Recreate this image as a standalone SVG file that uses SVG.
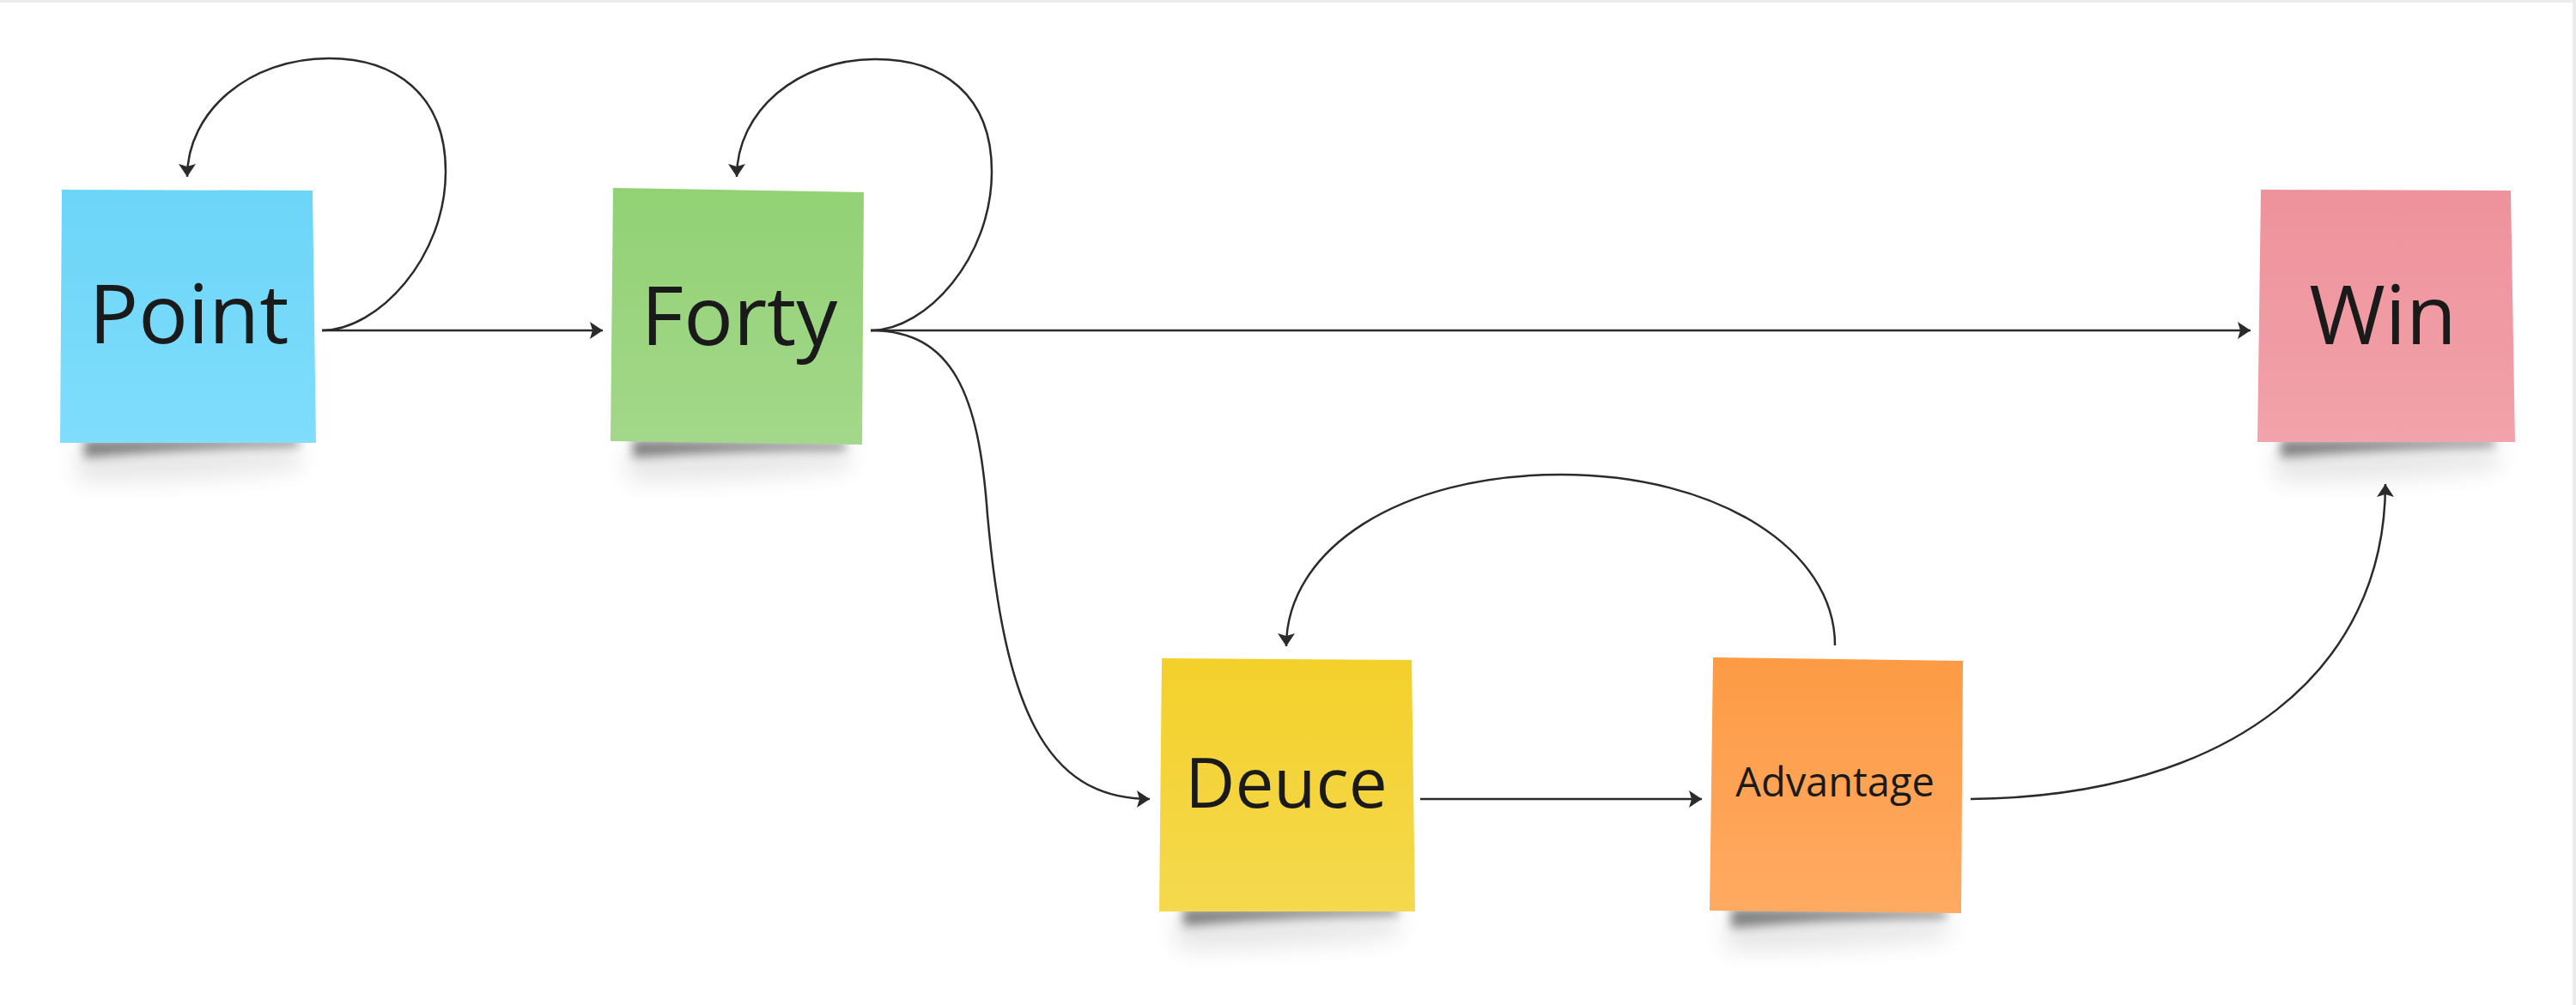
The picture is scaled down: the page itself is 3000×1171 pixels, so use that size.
<svg xmlns="http://www.w3.org/2000/svg" width="3000" height="1171" viewBox="0 0 3000 1171">
<style>
.lbl{font-family:"Open Sans","Noto Sans","Liberation Sans",sans-serif;fill:#1a1a1a;text-anchor:middle}
.big{font-size:96px}
.mid{font-size:80px}
.sm{font-size:47px}
.con{fill:none;stroke:#2b2b2b;stroke-width:2.5}
.sh1{fill:#000;opacity:0.45;filter:url(#blurA)}
.sh2{fill:#000;opacity:0.10;filter:url(#blurB)}
</style>
<defs>
<filter id="blurA" x="-20%" y="-200%" width="140%" height="500%"><feGaussianBlur stdDeviation="6"/></filter>
<filter id="blurB" x="-20%" y="-200%" width="140%" height="500%"><feGaussianBlur stdDeviation="14"/></filter>
<marker id="arr" markerUnits="userSpaceOnUse" viewBox="0 0 15 20" refX="15" refY="10" markerWidth="15" markerHeight="20" orient="auto">
<path d="M0,0 L15,10 L0,20 L3,10 Z" fill="#2b2b2b"/>
</marker>
<linearGradient id="gBlue" x1="0" y1="0" x2="0" y2="1"><stop offset="0" stop-color="#6bd5f8"/><stop offset="1" stop-color="#80ddfc"/></linearGradient>
<linearGradient id="gGreen" x1="0" y1="0" x2="0" y2="1"><stop offset="0" stop-color="#92d174"/><stop offset="1" stop-color="#a3d88a"/></linearGradient>
<linearGradient id="gPink" x1="0" y1="0" x2="0" y2="1"><stop offset="0" stop-color="#ee929b"/><stop offset="1" stop-color="#f2a2aa"/></linearGradient>
<linearGradient id="gYellow" x1="0" y1="0" x2="0" y2="1"><stop offset="0" stop-color="#f3d02a"/><stop offset="1" stop-color="#f5d94e"/></linearGradient>
<linearGradient id="gOrange" x1="0" y1="0" x2="0" y2="1"><stop offset="0" stop-color="#fd9b45"/><stop offset="1" stop-color="#ffaa62"/></linearGradient>
</defs>
<rect x="0" y="0" width="3000" height="1171" fill="#ffffff"/>
<rect x="0" y="0" width="3000" height="3" fill="#ececec"/>
<rect x="2996" y="0" width="4" height="1171" fill="#ececec"/>

<g id="connectors">
<path class="con" marker-end="url(#arr)" d="M375,385 C440,385 519,300 519,200 C519,110 460,68 383,68 C290,68 218,130 218,206"/>
<path class="con" marker-end="url(#arr)" d="M375,385 L702,385"/>
<path class="con" marker-end="url(#arr)" d="M1014,385 C1079,385 1155,300 1155,200 C1155,110 1097,69 1020,69 C928,69 858,130 858,206"/>
<path class="con" marker-end="url(#arr)" d="M1014,385 L2621,385"/>
<path class="con" marker-end="url(#arr)" d="M1014,385 C1110,385 1140,460 1150,600 C1170,820 1215,931 1339,931"/>
<path class="con" marker-end="url(#arr)" d="M1654,931 L1982,931"/>
<path class="con" marker-end="url(#arr)" d="M2137,752 C2137,640 2000,553 1818,553 C1630,553 1498,640 1498,753"/>
<path class="con" marker-end="url(#arr)" d="M2295,931 C2600,928 2778,780 2778,564"/>
</g>

<g id="node-point">
<path class="sh2" d="M90,520 L350,520 L350,545 Q220,560 90,560 Z"/>
<path class="sh1" d="M98,512 L348,512 L348,520 Q220,522 98,533 Z"/>
<polygon points="72,221 364,222 368,516 70,516" fill="url(#gBlue)"/>
<text class="lbl big" x="220" y="400">Point</text>
</g>

<g id="node-forty">
<path class="sh2" d="M731,520 L990,520 L990,545 Q860,560 731,560 Z"/>
<path class="sh1" d="M737,512 L985,516 L985,524 Q860,524 737,533 Z"/>
<polygon points="714,219 1006,224 1004,518 711,514" fill="url(#gGreen)"/>
<text class="lbl big" x="861" y="402">Forty</text>
</g>

<g id="node-win">
<path class="sh2" d="M2650,520 L2910,520 L2910,545 Q2780,560 2650,560 Z"/>
<path class="sh1" d="M2656,512 L2905,512 L2905,520 Q2780,522 2656,533 Z"/>
<polygon points="2633,221 2924,222 2929,515 2629,515" fill="url(#gPink)"/>
<text class="lbl big" x="2775" y="401">Win</text>
</g>

<g id="node-deuce">
<path class="sh2" d="M1370,1066 L1630,1066 L1630,1090 Q1500,1105 1370,1105 Z"/>
<path class="sh1" d="M1378,1058 L1628,1058 L1628,1066 Q1500,1068 1378,1079 Z"/>
<polygon points="1353,767 1644,769 1648,1062 1350,1062" fill="url(#gYellow)"/>
<text class="lbl mid" x="1498" y="941">Deuce</text>
</g>

<g id="node-advantage">
<path class="sh2" d="M2010,1068 L2270,1068 L2270,1092 Q2140,1107 2010,1107 Z"/>
<path class="sh1" d="M2016,1058 L2266,1061 L2266,1069 Q2140,1070 2016,1081 Z"/>
<polygon points="1995,766 2286,770 2284,1064 1991,1061" fill="url(#gOrange)"/>
<text class="lbl sm" x="2137" y="928">Advantage</text>
</g>
</svg>
